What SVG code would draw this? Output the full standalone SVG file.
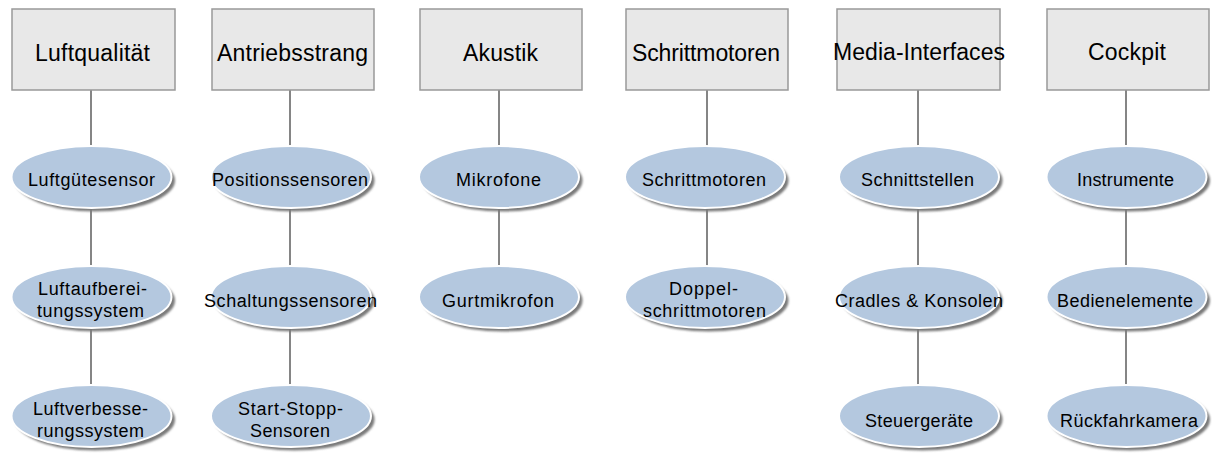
<svg xmlns="http://www.w3.org/2000/svg" width="1217" height="457" viewBox="0 0 1217 457">
<defs>
<filter id="sh" x="-20%" y="-30%" width="140%" height="160%">
<feGaussianBlur stdDeviation="1.1"/>
</filter>
<g id="ell">
<ellipse cx="3.5" cy="3.5" rx="80" ry="31" fill="#7a7a7a" filter="url(#sh)"/>
<ellipse cx="0" cy="0" rx="80" ry="31" fill="#b4c8df" stroke="#ffffff" stroke-width="2"/>
</g>
</defs>
<style>
.box{fill:#e8e8e8;stroke:#999999;stroke-width:1.5}
.con{stroke:#858585;stroke-width:2;fill:none}
.t1{font-family:"Liberation Sans",Arial,sans-serif;font-size:23px;fill:#000;text-anchor:middle}
.t2{font-family:"Liberation Sans",Arial,sans-serif;font-size:18px;fill:#000;text-anchor:middle}
</style>
<rect width="1217" height="457" fill="#ffffff"/>
<g id="connectors">
<path class="con" d="M91 90V146M91 209V266M91 329V386"/>
<path class="con" d="M290 90V146M290 209V266M290 329V386"/>
<path class="con" d="M499 90V146M499 209V266"/>
<path class="con" d="M707 90V146M707 209V266"/>
<path class="con" d="M918 90V146M918 209V266M918 329V386"/>
<path class="con" d="M1126 90V146M1126 209V266M1126 329V386"/>
</g>
<g id="h1"><rect class="box" x="12" y="9" width="163" height="81"/><text class="t1" x="92.5" y="61" textLength="115" lengthAdjust="spacing">Luftqualität</text></g>
<g id="h2"><rect class="box" x="212" y="9" width="162" height="81"/><text class="t1" x="292.5" y="61" textLength="151" lengthAdjust="spacing">Antriebsstrang</text></g>
<g id="h3"><rect class="box" x="420" y="9" width="162" height="81"/><text class="t1" x="500.5" y="61" textLength="75" lengthAdjust="spacing">Akustik</text></g>
<g id="h4"><rect class="box" x="626" y="9" width="162" height="81"/><text class="t1" x="706" y="61" textLength="148" lengthAdjust="spacing">Schrittmotoren</text></g>
<g id="h5"><rect class="box" x="837" y="9" width="163" height="81"/><text class="t1" x="919" y="60" textLength="172" lengthAdjust="spacing">Media-Interfaces</text></g>
<g id="h6"><rect class="box" x="1047" y="9" width="162" height="81"/><text class="t1" x="1127" y="60" textLength="78" lengthAdjust="spacing">Cockpit</text></g>

<g id="n11"><use href="#ell" x="91.5" y="177"/><text class="t2" x="91.5" y="186" textLength="127" lengthAdjust="spacing">Luftgütesensor</text></g>
<g id="n12"><use href="#ell" x="91.5" y="297"/><text class="t2" x="92.5" y="295" textLength="109" lengthAdjust="spacing">Luftaufberei-</text><text class="t2" x="90.5" y="317" textLength="107" lengthAdjust="spacing">tungssystem</text></g>
<g id="n13"><use href="#ell" x="91.5" y="416"/><text class="t2" x="90.5" y="415" textLength="115" lengthAdjust="spacing">Luftverbesse-</text><text class="t2" x="90.5" y="437" textLength="107" lengthAdjust="spacing">rungssystem</text></g>

<g id="n21"><use href="#ell" x="291" y="177"/><text class="t2" x="290" y="186" textLength="156" lengthAdjust="spacing">Positionssensoren</text></g>
<g id="n22"><use href="#ell" x="291" y="297"/><text class="t2" x="290.5" y="307" textLength="173" lengthAdjust="spacing">Schaltungssensoren</text></g>
<g id="n23"><use href="#ell" x="291" y="416"/><text class="t2" x="290.5" y="415" textLength="105" lengthAdjust="spacing">Start-Stopp-</text><text class="t2" x="290" y="437" textLength="80" lengthAdjust="spacing">Sensoren</text></g>

<g id="n31"><use href="#ell" x="499" y="177"/><text class="t2" x="498.5" y="186" textLength="85" lengthAdjust="spacing">Mikrofone</text></g>
<g id="n32"><use href="#ell" x="499" y="297"/><text class="t2" x="498" y="307" textLength="112" lengthAdjust="spacing">Gurtmikrofon</text></g>

<g id="n41"><use href="#ell" x="705" y="177"/><text class="t2" x="704" y="186" textLength="124" lengthAdjust="spacing">Schrittmotoren</text></g>
<g id="n42"><use href="#ell" x="705" y="297"/><text class="t2" x="703.5" y="295" textLength="69" lengthAdjust="spacing">Doppel-</text><text class="t2" x="704.5" y="317" textLength="123" lengthAdjust="spacing">schrittmotoren</text></g>

<g id="n51"><use href="#ell" x="919" y="177"/><text class="t2" x="917.5" y="186" textLength="113" lengthAdjust="spacing">Schnittstellen</text></g>
<g id="n52"><use href="#ell" x="919" y="297"/><text class="t2" x="919" y="307" textLength="168" lengthAdjust="spacing">Cradles &amp; Konsolen</text></g>
<g id="n53"><use href="#ell" x="919" y="416"/><text class="t2" x="919" y="427" textLength="108" lengthAdjust="spacing">Steuergeräte</text></g>

<g id="n61"><use href="#ell" x="1126.5" y="177"/><text class="t2" x="1125.5" y="186" textLength="97" lengthAdjust="spacing">Instrumente</text></g>
<g id="n62"><use href="#ell" x="1126.5" y="297"/><text class="t2" x="1125" y="307" textLength="136" lengthAdjust="spacing">Bedienelemente</text></g>
<g id="n63"><use href="#ell" x="1126.5" y="416"/><text class="t2" x="1129" y="427" textLength="138" lengthAdjust="spacing">Rückfahrkamera</text></g>
</svg>
